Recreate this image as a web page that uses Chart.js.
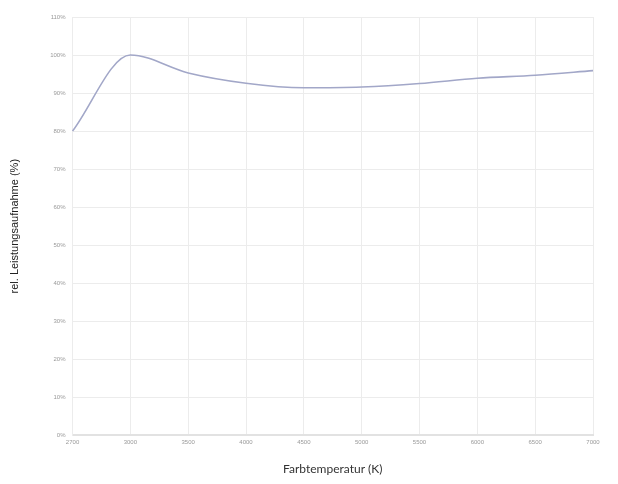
<!DOCTYPE html>
<html>
<head>
<meta charset="utf-8">
<script src="https://cdn.jsdelivr.net/npm/chart.js@4"></script>
<style>
  html, body { margin: 0; padding: 0; background: #fff; }
  #wrap { width: 618px; height: 484px; }
</style>
</head>
<body>
<div id="wrap"><canvas id="powerChart"></canvas></div>
<script>
const temperatures = ['2700', '3000', '3500', '4000', '4500', '5000', '5500', '6000', '6500', '7000'];
const relPower = [80, 100, 95.3, 92.6, 91.4, 91.6, 92.5, 93.9, 94.7, 95.9];
const yTicks = [0, 10, 20, 30, 40, 50, 60, 70, 80, 90, 100, 110];

const ctx = document.getElementById('powerChart').getContext('2d');

new Chart(ctx, {
  type: 'line',
  data: {
    labels: temperatures,
    datasets: [{
      label: 'rel. Leistungsaufnahme',
      data: relPower,
      borderColor: '#a2a7c8',
      borderWidth: 1.6,
      pointRadius: 0,
      cubicInterpolationMode: 'monotone',
      fill: false
    }]
  },
  options: {
    responsive: true,
    maintainAspectRatio: false,
    animation: false,
    layout: { padding: { top: 17, right: 25, left: 4, bottom: 4 } },
    plugins: {
      legend: { display: false },
      tooltip: { enabled: false }
    },
    scales: {
      x: {
        offset: false,
        grid: { color: '#ececec', drawTicks: false },
        border: { color: '#e2e2e2', width: 2 },
        ticks: {
          color: '#999',
          font: { family: 'Liberation Sans', size: 6 },
          padding: 3,
          maxRotation: 0,
          autoSkip: false
        },
        title: {
          display: true,
          text: 'Farbtemperatur (K)',
          color: '#333',
          font: { family: 'Lato', size: 12 },
          padding: { top: 13 }
        }
      },
      y: {
        min: 0,
        max: 110,
        afterBuildTicks: axis => { axis.ticks = yTicks.map(v => ({ value: v })); },
        grid: { color: '#ececec', drawTicks: false },
        border: { color: '#ececec' },
        ticks: {
          color: '#999',
          font: { family: 'Liberation Sans', size: 6 },
          padding: 7,
          callback: v => v + '%'
        },
        title: {
          display: true,
          text: 'rel. Leistungsaufnahme (%)',
          color: '#222',
          font: { family: 'Liberation Sans', size: 11 },
          padding: { bottom: 22 }
        }
      }
    }
  }
});
</script>
</body>
</html>
